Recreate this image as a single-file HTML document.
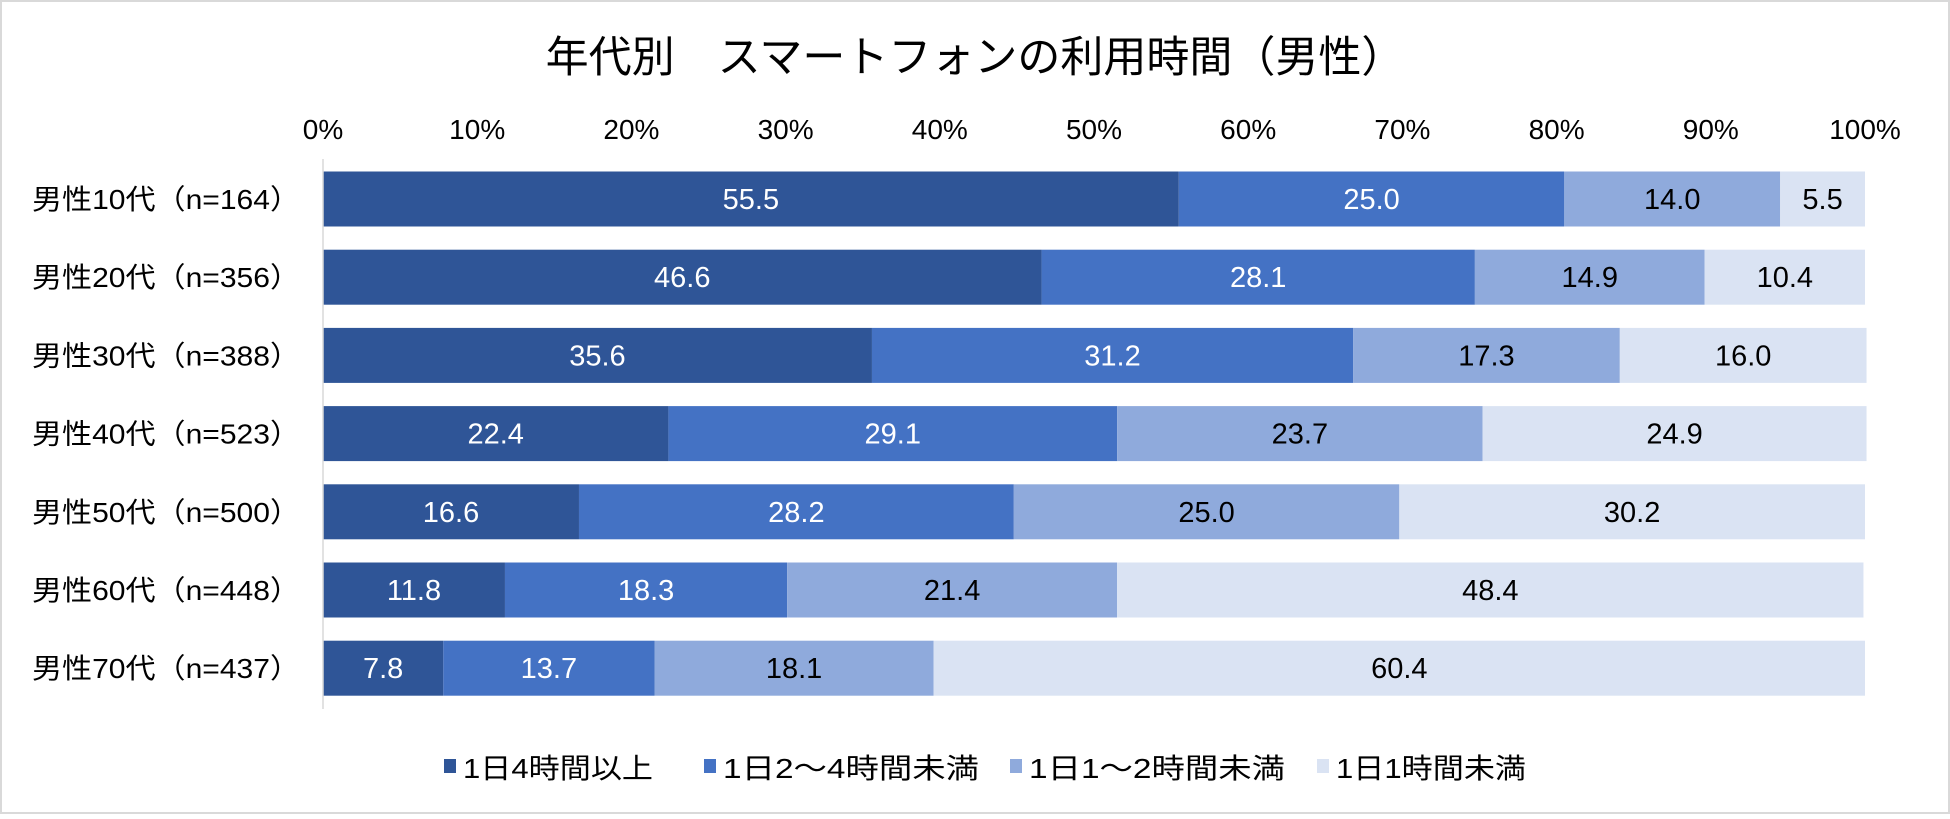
<!DOCTYPE html>
<html><head><meta charset="utf-8"><style>
body{margin:0;background:#fff;}
svg text{font-family:"Liberation Sans","Noto Sans CJK JP",sans-serif;}
</style></head><body>
<svg width="1950" height="814" xmlns="http://www.w3.org/2000/svg">
<rect x="1" y="1" width="1948" height="812" fill="#fff" stroke="#d9d9d9" stroke-width="2"/>
<text x="975" y="72" font-size="43" text-anchor="middle" fill="#000">年代別　スマートフォンの利用時間（男性）</text>
<g id="ticks"></g><g id="bars"></g><g id="cats"></g>
<line x1="323" y1="159" x2="323" y2="709" stroke="#d9d9d9" stroke-width="1.5"/>
<g id="legend"></g>
</svg>
<script>
const categories=["男性10代（n=164）","男性20代（n=356）","男性30代（n=388）","男性40代（n=523）","男性50代（n=500）","男性60代（n=448）","男性70代（n=437）"];
const seriesNames=["1日4時間以上","1日2～4時間未満","1日1～2時間未満","1日1時間未満"];
const s1=[55.5,46.6,35.6,22.4,16.6,11.8,7.8];
const s2=[25.0,28.1,31.2,29.1,28.2,18.3,13.7];
const s3=[14.0,14.9,17.3,23.7,25.0,21.4,18.1];
const s4=[5.5,10.4,16.0,24.9,30.2,48.4,60.4];
const ticks=[0,10,20,30,40,50,60,70,80,90,100];
const series=[s1,s2,s3,s4];
const colors=["#2F5597","#4472C4","#8FAADC","#DAE3F3"];
const textCol=["#fff","#fff","#000","#000"];
const NS="http://www.w3.org/2000/svg";
const x=v=>323+v/100*1542;
const yc=i=>199+i*78.2;
const BH=55;
function mk(tag,attrs,parent){const e=document.createElementNS(NS,tag);for(const k in attrs)e.setAttribute(k,attrs[k]);parent.appendChild(e);return e;}
const gt=document.getElementById('ticks'),gb=document.getElementById('bars'),gc=document.getElementById('cats'),gl=document.getElementById('legend');
ticks.forEach(t=>{const e=mk('text',{x:x(t),y:139,'font-size':28,'text-anchor':'middle',fill:'#000'},gt);e.textContent=t+'%';

});
categories.forEach((c,i)=>{
 const e=mk('text',{x:300,y:yc(i)+10,'font-size':28,'text-anchor':'end',fill:'#000',textLength:268,lengthAdjust:'spacingAndGlyphs'},gc);e.textContent=c;
 
 
 let acc=0;
 series.forEach((s,k)=>{
  const v=s[i];
  const r=mk('rect',{x:x(acc),y:yc(i)-BH/2,width:x(acc+v)-x(acc),height:BH,fill:colors[k]},gb);
  
  
  const t=mk('text',{x:(x(acc)+x(acc+v))/2,y:yc(i)+10,'font-size':29,'text-anchor':'middle',fill:textCol[k]},gb);
  t.textContent=v.toFixed(1);
  
  
  acc+=v;
 });
});
const lx=[444,704,1010,1317];
const lw=[190,256,256,190];
seriesNames.forEach((n,k)=>{
 const r=mk('rect',{x:lx[k],y:759,width:12,height:14,fill:colors[k]},gl);
 
 
 const t=mk('text',{x:lx[k]+19,y:778,'font-size':28,fill:'#000',textLength:lw[k],lengthAdjust:'spacingAndGlyphs'},gl);t.textContent=n;
 
 
});
</script>
</body></html>
